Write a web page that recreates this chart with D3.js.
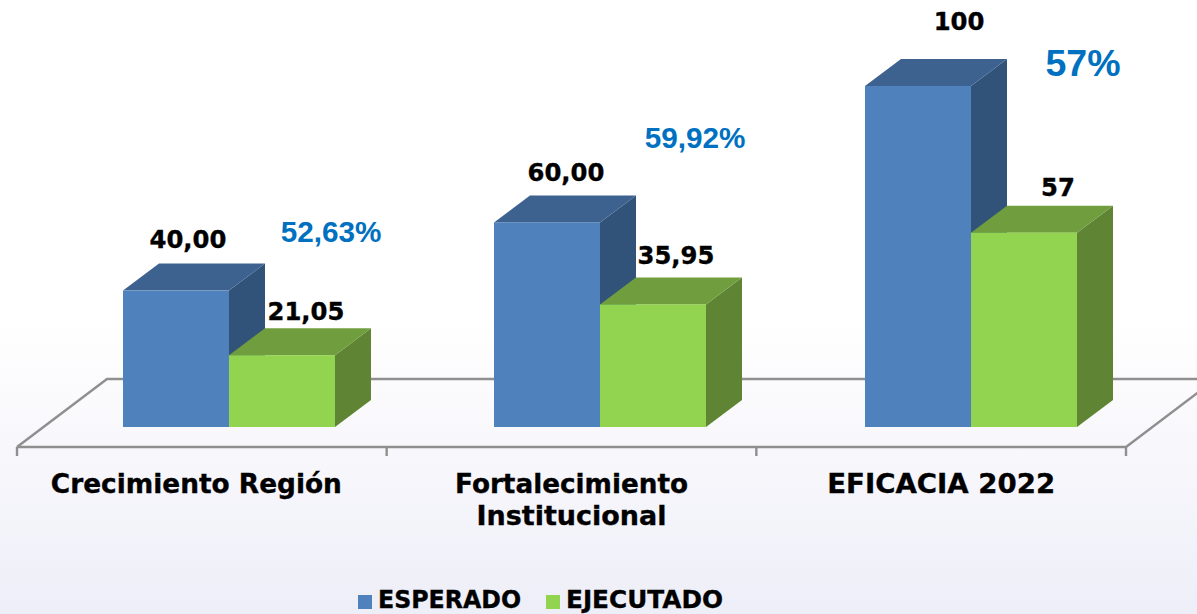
<!DOCTYPE html>
<html><head><meta charset="utf-8">
<script src="https://cdn.jsdelivr.net/npm/d3@7"></script>
<style>html,body{margin:0;padding:0;width:1197px;height:614px;overflow:hidden;background:#fff}svg{display:block}</style>
</head><body><svg width="1197" height="614"></svg>
<script>
const categories = [["Crecimiento Región"], ["Fortalecimiento", "Institucional"], ["EFICACIA 2022"]];
const esperado = [40, 60, 100];
const ejecutado = [21.05, 35.95, 57];
const esperadoLabels = ["40,00", "60,00", "100"];
const ejecutadoLabels = ["21,05", "35,95", "57"];
const percentLabels = ["52,63%", "59,92%", "57%"];
const seriesNames = ["ESPERADO", "EJECUTADO"];

const svg = d3.select("svg");
const defs = svg.append("defs");
const bg = defs.append("linearGradient").attr("id", "bg").attr("x1", 0).attr("x2", 0).attr("y1", 0).attr("y2", 1);
bg.append("stop").attr("offset", "0.52").attr("stop-color", "#ffffff");
bg.append("stop").attr("offset", "1").attr("stop-color", "#eeeef8");
svg.append("rect").attr("width", 1197).attr("height", 614).attr("fill", "url(#bg)");

const dx = 36, dy = -27, floorDx = 90, floorDy = -68;
const x = d3.scaleBand().domain(d3.range(3)).range([17, 1126]).paddingInner(0).paddingOuter(0);
const barCenter = d3.scalePoint().domain(d3.range(3)).range([229, 971]);
const y = d3.scaleLinear().domain([0, 100]).range([427, 86]);
const barW = 106;
const floorY = 447;

const floor = svg.append("g").attr("fill", "none").attr("stroke", "#8f8f8f").attr("stroke-width", 2.4);
floor.append("path").attr("d", `M17,${floorY}L${17 + floorDx},${floorY + floorDy}L1197,${floorY + floorDy}`);
floor.append("path").attr("d", `M17,${floorY}L1126,${floorY}L${1126 + floorDx},${floorY + floorDy}`);
floor.selectAll("line").data([0, 1, 2, 3]).join("line")
  .attr("x1", d => d < 3 ? x(d) : x(2) + x.bandwidth())
  .attr("x2", d => d < 3 ? x(d) : x(2) + x.bandwidth())
  .attr("y1", floorY).attr("y2", floorY + 9);

const colors = [
  { front: "#4f81bd", top: "#3d628f", side: "#325379" },
  { front: "#92d350", top: "#709e3e", side: "#5f8433" }
];
function drawBar(g, x0, v, c) {
  const t = y(v), b = y(0), r = x0 + barW;
  g.append("path").attr("fill", c.side).attr("d", `M${r},${t}L${r + dx},${t + dy}L${r + dx},${b + dy}L${r},${b}Z`);
  g.append("path").attr("fill", c.top).attr("d", `M${x0},${t}L${x0 + dx},${t + dy}L${r + dx},${t + dy}L${r},${t}Z`);
  g.append("rect").attr("fill", c.front).attr("x", x0).attr("y", t).attr("width", barW).attr("height", b - t);
}
const bars = svg.append("g");
categories.forEach((_, i) => {
  const x0 = barCenter(i) - barW;
  drawBar(bars, x0, esperado[i], colors[0]);
  drawBar(bars, x0 + barW, ejecutado[i], colors[1]);
});

const vf = "'DejaVu Sans',Verdana,sans-serif";
const af = "'Liberation Sans',Arial,sans-serif";
const labels = svg.append("g").attr("font-family", vf).attr("font-weight", "bold").attr("fill", "#000")
  .attr("stroke", "#000").attr("stroke-width", 0.35).attr("text-anchor", "middle");
const esperadoOffset = [[12, -43], [19, -41], [41, -56]];
const ejecutadoOffset = [[24, -35], [23, -40], [34, -37]];
const categoryOffset = [-5.5, 0, 0];
const categoryWidths = [[291], [233, 190], [228]];
categories.forEach((_, i) => {
  const band = x(i) + x.bandwidth() / 2;
  const c = barCenter(i);
  labels.append("text").attr("x", c - barW / 2 + esperadoOffset[i][0]).attr("y", y(esperado[i]) + esperadoOffset[i][1]).attr("font-size", 24.3).text(esperadoLabels[i]);
  labels.append("text").attr("x", c + barW / 2 + ejecutadoOffset[i][0]).attr("y", y(ejecutado[i]) + ejecutadoOffset[i][1]).attr("font-size", 24.3).text(ejecutadoLabels[i]);
  categories[i].forEach((line, k) => labels.append("text").attr("font-size", 26.4)
    .attr("x", band + categoryOffset[i]).attr("y", 493 + k * 32)
    .attr("textLength", categoryWidths[i][k]).attr("lengthAdjust", "spacingAndGlyphs").text(line));
});
const pctPos = [[331, 242, 29.7], [695, 148, 29.7], [1083, 76, 37.5]];
svg.append("g").attr("font-family", af).attr("font-weight", "bold").attr("fill", "#0070c0").attr("text-anchor", "middle")
  .selectAll("text").data(percentLabels).join("text")
  .attr("x", (d, i) => pctPos[i][0]).attr("y", (d, i) => pctPos[i][1]).attr("font-size", (d, i) => pctPos[i][2]).text(d => d);

const leg = svg.append("g").attr("font-family", vf).attr("font-weight", "bold").attr("font-size", 24).attr("fill", "#000")
  .attr("stroke", "#000").attr("stroke-width", 0.35);
[[358, 378, 143], [546, 566, 157]].forEach(([sx, tx, w], i) => {
  leg.append("rect").attr("x", sx).attr("y", 595).attr("width", 14).attr("height", 14).attr("fill", colors[i].front).attr("stroke", "none");
  leg.append("text").attr("x", tx).attr("y", 608).attr("textLength", w).attr("lengthAdjust", "spacingAndGlyphs").text(seriesNames[i]);
});
</script></body></html>
